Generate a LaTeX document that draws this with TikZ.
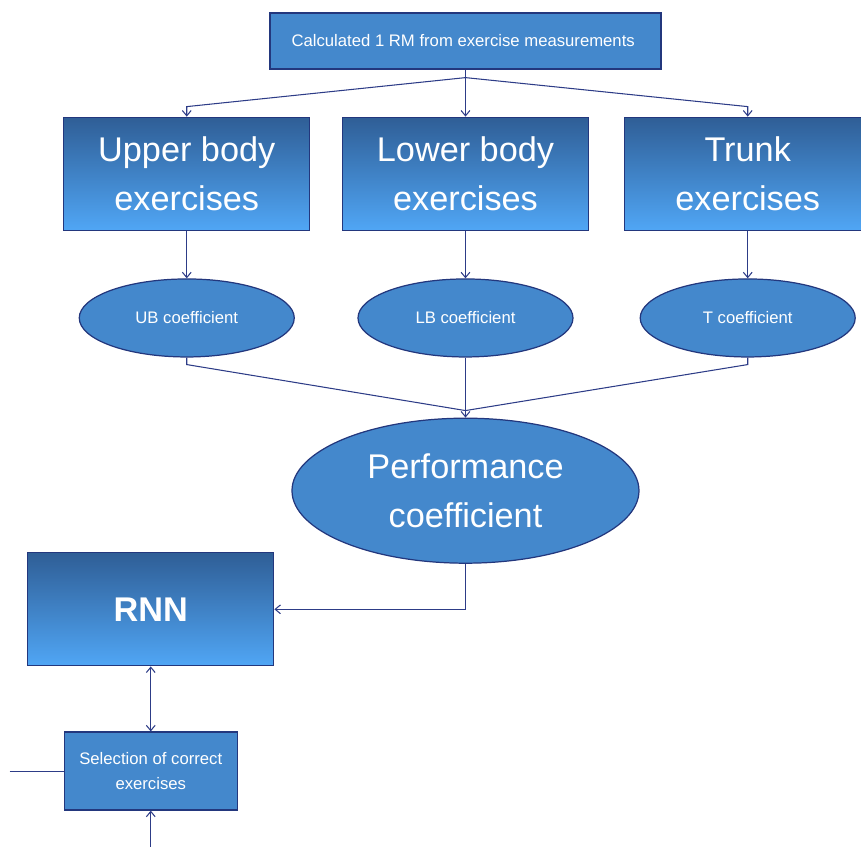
\documentclass[tikz,border=0pt]{standalone}
\usepackage{fontspec}
\setmainfont{Liberation Sans}
\usetikzlibrary{shapes, arrows.meta, positioning, calc}

\definecolor{boxblue}{RGB}{68,136,204}
\definecolor{topblue}{RGB}{47,94,150}
\definecolor{lowblue}{RGB}{80,166,245}
\definecolor{edgeblue}{RGB}{35,55,125}
\definecolor{linkblue}{RGB}{45,60,135}

\begin{document}
\begin{tikzpicture}[
	flatbox/.style={draw=edgeblue, line width=0.7pt, fill=boxblue,
		text=white, align=center, font=\fontsize{9.5}{13.7}\selectfont},
	bigbox/.style={draw=edgeblue, line width=0.7pt,
		top color=topblue, bottom color=lowblue,
		text=white, align=center,
		minimum width=4.92cm, minimum height=2.26cm,
		font=\fontsize{19.5}{27.5}\selectfont},
	coef/.style={ellipse, draw=edgeblue, line width=0.7pt, fill=boxblue,
		text=white, align=center, inner sep=0pt,
		minimum width=4.3cm, minimum height=1.56cm,
		font=\fontsize{9.5}{12}\selectfont},
	link/.style={draw=linkblue, line width=0.6pt},
	tip/.style={-{Straight Barb[length=3pt,width=5pt]}},
	tips/.style={{Straight Barb[length=3pt,width=5pt]}-{Straight Barb[length=3pt,width=5pt]}}
	]
	\useasboundingbox (-9.31,0.82) rectangle (7.91,-16.12);
	
	% measurement box
	\node[flatbox,
	minimum width=7.82cm,
	minimum height=1.12cm] (calc) at (0,0) {
	Calculated 1 RM from exercise measurements
	};
	
	% exercise groups
	\node[bigbox, below=0.94cm of calc] (lower) {Lower body\\exercises};
	\node[bigbox, left=0.63cm of lower] (upper) {Upper body\\exercises};
	\node[bigbox, right=0.70cm of lower] (trunk) {Trunk\\exercises};
	
	% coefficients
	\node[coef, below=0.95cm of upper] (ubc) {UB coefficient};
	\node[coef, below=0.95cm of lower] (lbc) {LB coefficient};
	\node[coef, below=0.95cm of trunk] (tc) {T coefficient};
	
	\node[coef,
	minimum width=6.94cm,
	minimum height=2.9cm,
	font=\fontsize{19.5}{28}\selectfont,
	below=1.2cm of lbc] (perf) {
	Performance\\coefficient
	};
	
	\node[bigbox,
	font=\bfseries\fontsize{19.5}{27.5}\selectfont,
	below left=1.23cm and 0.34cm of perf.west] (rnn) {RNN};
	
	\node[flatbox,
	minimum width=3.46cm,
	minimum height=1.56cm,
	below=1.3cm of rnn] (select) {
	Selection of correct\\exercises
	};
	
	\coordinate[left=1.08cm of select.west] (feedin);
	\coordinate[below=0.76cm of select.south] (feedup);
	\coordinate[above=0.14cm of perf.north] (merge);
	
	% Arrows
	\draw[link] (calc.south) -- ++(0,-0.16) coordinate (split);
	\foreach \grp in {upper,lower,trunk}
		\draw[link,tip] (split) -- ($(\grp.north)+(0,0.2)$) -- (\grp.north);
	
	\draw[link,tip] (upper) -- (ubc);
	\draw[link,tip] (lower) -- (lbc);
	\draw[link,tip] (trunk) -- (tc);
	
	\foreach \cf in {ubc,tc}
		\draw[link] (\cf.south) -- ++(0,-0.14) -- (merge);
	\draw[link,tip] (lbc.south) -- (perf.north);
	
	\draw[link,tip] (perf.south) |- (rnn.east);
	\draw[link,tips] (rnn) -- (select);
	\draw[link] (feedin) -- (select.west);
	\draw[link,tip] (feedup) -- (select.south);
\end{tikzpicture}
\end{document}
